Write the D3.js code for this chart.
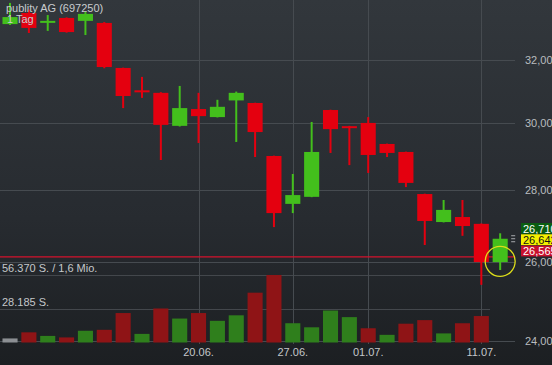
<!DOCTYPE html>
<html>
<head>
<meta charset="utf-8">
<script src="https://cdn.jsdelivr.net/npm/d3@7"></script>
<style>
  body { margin: 0; background: #1d2024; }
  svg { display: block; font-family: "Liberation Sans", Arial, sans-serif; }
</style>
</head>
<body>
<div id="container"></div>
<script>
/* CONSTANTS AND GLOBALS */
const width = 552;
const height = 365;
const plotRight = 515;

/* DATA */
const dates = ["06.06.", "07.06.", "08.06.", "09.06.", "10.06.", "13.06.", "14.06.", "15.06.", "16.06.",
  "17.06.", "20.06.", "21.06.", "22.06.", "23.06.", "24.06.", "27.06.", "28.06.", "29.06.", "30.06.",
  "01.07.", "04.07.", "05.07.", "06.07.", "07.07.", "08.07.", "11.07.", "12.07."];
const opens  = [33.20, 33.58, 33.29, 33.41, 33.31, 33.24, 31.74, 31.02, 30.94, 29.91, 30.43, 30.18, 30.70, 30.62,
  29.00, 27.61, 27.81, 30.40, 29.90, 30.00, 29.36, 29.12, 27.89, 27.10, 27.24, 27.05, 26.01];
const highs  = [33.93, 33.70, 33.51, 33.43, 33.62, 33.27, 31.75, 31.45, 30.96, 31.16, 30.94, 30.72, 30.98, 30.63,
  29.01, 28.47, 30.03, 30.41, 29.91, 30.18, 29.37, 29.13, 27.90, 27.72, 27.72, 27.06, 26.79];
const lows   = [33.17, 32.90, 32.97, 32.91, 32.83, 31.73, 30.46, 30.78, 28.88, 29.89, 29.39, 30.17, 29.42, 28.97,
  26.96, 27.35, 27.80, 29.09, 28.73, 28.50, 28.97, 28.09, 26.47, 27.09, 26.72, 25.41, 25.80];
const closes = [33.44, 33.07, 33.31, 32.93, 33.55, 31.77, 30.84, 30.98, 29.94, 30.46, 30.21, 30.50, 30.94, 29.72,
  27.35, 27.86, 29.12, 29.81, 29.88, 29.03, 29.09, 28.21, 27.13, 27.44, 26.99, 26.01, 26.64];
// volume per day (shares), the running day has none yet
const volumes = [3400, 8500, 5500, 4250, 9800, 10600, 24600, 7200, 28400, 20000, 24600, 18100, 22700, 41600,
  56370, 16100, 12700, 26700, 21200, 11900, 6400, 15700, 18700, 7600, 16100, 22100];
const volumeTicks = [28185, 56370];
const maxTurnover = "1,6 Mio.";

const priceTicks = [24, 26, 28, 30, 32];
const dateTicks = ["20.06.", "27.06.", "01.07.", "11.07."];
const quotes = [26.710, 26.642, 26.565];   // ask, last, bid
const refPrice = 26.15;
const markPrice = 26.03;

const candles = dates.map((d, i) => ({ date: d, open: opens[i], high: highs[i], low: lows[i], close: closes[i] }));
const vols = volumes.map((v, i) => ({
  date: dates[i], volume: v,
  dir: i === 0 ? 0 : (closes[i] >= closes[i - 1] ? 1 : -1)
}));

const de = d3.formatLocale({ decimal: ",", thousands: ".", grouping: [3], currency: ["", " €"] });
const fmtPrice = de.format(",.3f");
const fmtVol = de.format(",d");

/* SCALES */
const xScale = d3.scaleBand()
  .domain(dates)
  .range([0.6, 509.6])
  .paddingInner(0.2)
  .paddingOuter(0.1);

const yScale = d3.scaleLog()
  .domain([24, 32])
  .range([340.5, 60]);

const vScale = d3.scaleLinear()
  .domain([0, 56370])
  .range([342.5, 275]);

const xc = d => xScale(d) + xScale.bandwidth() / 2;

/* SVG */
const svg = d3.select("#container")
  .append("svg")
  .attr("width", width)
  .attr("height", height);

const grad = svg.append("defs").append("linearGradient")
  .attr("id", "bg").attr("x1", 0).attr("y1", 0).attr("x2", 0).attr("y2", 1);
grad.append("stop").attr("offset", "0%").attr("stop-color", "#32373c");
grad.append("stop").attr("offset", "60%").attr("stop-color", "#272b30");
grad.append("stop").attr("offset", "100%").attr("stop-color", "#1c1f22");

svg.append("rect").attr("width", width).attr("height", height).attr("fill", "url(#bg)");

// price grid
svg.append("g")
  .selectAll("line")
  .data(priceTicks)
  .join("line")
  .attr("x1", 0).attr("x2", plotRight)
  .attr("y1", d => Math.round(yScale(d)) + 0.5)
  .attr("y2", d => Math.round(yScale(d)) + 0.5)
  .attr("stroke", "#464b50");

// volume grid
svg.append("g")
  .selectAll("line")
  .data(volumeTicks)
  .join("line")
  .attr("x1", 0).attr("x2", 490)
  .attr("y1", d => Math.round(vScale(d)) + 0.5)
  .attr("y2", d => Math.round(vScale(d)) + 0.5)
  .attr("stroke", "#43474c");

// vertical grid
svg.append("g")
  .selectAll("line")
  .data(dateTicks)
  .join("line")
  .attr("x1", d => Math.round(xc(d)) + 0.5)
  .attr("x2", d => Math.round(xc(d)) + 0.5)
  .attr("y1", 0).attr("y2", 344)
  .attr("stroke", "#464b50");

// volume bars
svg.append("g")
  .selectAll("rect")
  .data(vols)
  .join("rect")
  .attr("x", d => xScale(d.date))
  .attr("width", xScale.bandwidth())
  .attr("y", d => vScale(d.volume))
  .attr("height", d => vScale(0) - vScale(d.volume))
  .attr("fill", d => d.dir === 0 ? "#8c8f93" : d.dir > 0 ? "#2f7f1c" : "#8f1416");

// volume labels
svg.append("text")
  .attr("x", 2).attr("y", vScale(volumeTicks[1]) - 3)
  .attr("fill", "#c4c7ca").attr("font-size", 11)
  .text(`${fmtVol(volumeTicks[1])} S. / ${maxTurnover}`);
svg.append("text")
  .attr("x", 2).attr("y", vScale(volumeTicks[0]) - 3)
  .attr("fill", "#c4c7ca").attr("font-size", 11)
  .text(`${fmtVol(volumeTicks[0])} S.`);

// reference line
svg.append("line")
  .attr("x1", 0).attr("x2", plotRight)
  .attr("y1", yScale(refPrice)).attr("y2", yScale(refPrice))
  .attr("stroke", "#d3122c").attr("stroke-width", 1.2);

// candles
const candle = svg.append("g")
  .selectAll("g")
  .data(candles)
  .join("g")
  .attr("fill", d => d.close >= d.open ? "#43bf1c" : "#e4000f")
  .attr("stroke", d => d.close >= d.open ? "#43bf1c" : "#e4000f");

candle.append("line")
  .attr("x1", d => xc(d.date)).attr("x2", d => xc(d.date))
  .attr("y1", d => yScale(d.high)).attr("y2", d => yScale(d.low))
  .attr("stroke-width", 2);

candle.append("rect")
  .attr("stroke", "none")
  .attr("x", d => xScale(d.date))
  .attr("width", xScale.bandwidth())
  .attr("y", d => yScale(Math.max(d.open, d.close)))
  .attr("height", d => Math.max(2, yScale(Math.min(d.open, d.close)) - yScale(Math.max(d.open, d.close))));

// last candle marker
const last = candles[candles.length - 1];
svg.append("circle")
  .attr("cx", xc(last.date))
  .attr("cy", yScale(markPrice))
  .attr("r", 15)
  .attr("fill", "none")
  .attr("stroke", "#dede1a")
  .attr("stroke-width", 1.3);

svg.append("g")
  .selectAll("line")
  .data([-3, 0, 3])
  .join("line")
  .attr("x1", xc(last.date) + 11).attr("x2", xc(last.date) + 15)
  .attr("y1", d => yScale(last.close) + d).attr("y2", d => yScale(last.close) + d)
  .attr("stroke", "#a8abae");

// price axis
const yAxis = d3.axisRight(yScale)
  .tickValues(priceTicks)
  .tickFormat(fmtPrice)
  .tickSize(0)
  .tickPadding(0);

svg.append("g")
  .attr("transform", `translate(${525}, 0)`)
  .call(yAxis)
  .call(g => g.select(".domain").remove())
  .call(g => g.selectAll("text").attr("fill", "#b9bcbf").attr("font-size", 11)
    .attr("font-family", "Liberation Sans, Arial, sans-serif"));

// date axis
const xAxis = d3.axisBottom(xScale)
  .tickValues(dateTicks)
  .tickSize(0)
  .tickPadding(0);

svg.append("g")
  .attr("transform", `translate(0, ${345})`)
  .call(xAxis)
  .call(g => g.select(".domain").remove())
  .call(g => g.selectAll("text").attr("fill", "#c4c7ca").attr("font-size", 11).attr("dy", "1em")
    .attr("font-family", "Liberation Sans, Arial, sans-serif"));

// quote boxes
const boxColors = ["#0b5e12", "#f4f000", "#c8102e"];
const textColors = ["#ffffff", "#111111", "#ffffff"];
const quoteG = svg.append("g")
  .selectAll("g")
  .data(quotes)
  .join("g")
  .attr("transform", (d, i) => `translate(521, ${223 + i * 11.3})`);
quoteG.append("rect")
  .attr("width", 31).attr("height", 10.8)
  .attr("fill", (d, i) => boxColors[i]);
quoteG.append("text")
  .attr("x", 2).attr("y", 9.5)
  .attr("font-size", 11)
  .attr("fill", (d, i) => textColors[i])
  .text(d => fmtPrice(d));

// title
svg.append("text")
  .attr("x", 6).attr("y", 12)
  .attr("fill", "#c8cbce").attr("font-size", 11)
  .text("publity AG (697250)");
svg.append("text")
  .attr("x", 7).attr("y", 23)
  .attr("fill", "#c8cbce").attr("font-size", 11)
  .text("1 Tag");
</script>
</body>
</html>
